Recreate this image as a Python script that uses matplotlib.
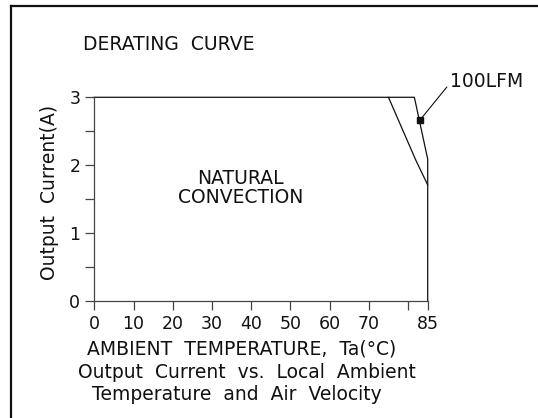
import matplotlib
matplotlib.use("Agg")
import matplotlib.pyplot as plt
from matplotlib.lines import Line2D

# ---- data ----
nat_x = [0, 75, 82, 85, 85]
nat_y = [3, 3, 2.07, 1.71, 0]
lfm_x = [75, 81.6, 85, 85]
lfm_y = [3, 3, 2.09, 1.71]
marker_pt = (83.1, 2.67)
label_pt = (90.6, 3.23)

xticks = [0, 10, 20, 30, 40, 50, 60, 70, 80, 85]
xticklabels = ["0", "10", "20", "30", "40", "50", "60", "70", "", "85"]
yticks = [0, 1, 2, 3]
yticklabels = ["0", "1", "2", "3"]
yminor = [0.5, 1.5, 2.5]

W, H = 538, 418
fs = 13.5
tfs = 12.5
col = "#111111"
plt.rcParams["font.family"] = ["DejaVu Sans"]

fig = plt.figure(figsize=(W / 100, H / 100), dpi=100)
ax = fig.add_axes([94.3 / W, (H - 301) / H, (427.7 - 94.3) / W, (301 - 97.3) / H])
ax.set_xlim(0, 85)
ax.set_ylim(0, 3)

ax.plot(nat_x, nat_y, color=col, lw=0.9, clip_on=False)
ax.plot(lfm_x, lfm_y, color=col, lw=0.9, clip_on=False)
ax.plot([marker_pt[0]], [marker_pt[1]], marker="s", color=col, ms=4.5, clip_on=False)
ax.annotate("100LFM", xy=marker_pt, xytext=label_pt, fontsize=fs, color=col,
            va="center", ha="left", annotation_clip=False,
            arrowprops=dict(arrowstyle="-", lw=0.8, color=col, shrinkA=0, shrinkB=0,
                            relpos=(0, 0.4)))

ax.text(37.2, 1.67, "NATURAL\nCONVECTION", ha="center", va="center",
        fontsize=fs, color=col, linespacing=1.0)

for s in ["top", "right"]:
    ax.spines[s].set_visible(False)
for s in ["left", "bottom"]:
    ax.spines[s].set_linewidth(0.9)
    ax.spines[s].set_color("#444444")

ax.set_xticks(xticks)
ax.set_xticklabels(xticklabels)
ax.set_yticks(yticks)
ax.set_yticklabels(yticklabels)
ax.set_yticks(yminor, minor=True)
ax.tick_params(axis="both", which="both", direction="out", length=6.5, width=0.9,
               color="#444444", labelsize=tfs, labelcolor=col, pad=3.6)

# texts in figure pixel coords
def ftext(x, y, s, **kw):
    fig.text(x / W, 1 - y / H, s, fontsize=fs, color=col, **kw)

ftext(83, 45, "DERATING  CURVE", ha="left", va="center")
ftext(242, 349, "AMBIENT  TEMPERATURE,  Ta(°C)", ha="center", va="center")
ftext(247, 372, "Output  Current  vs.  Local  Ambient", ha="center", va="center")
ftext(237, 395, "Temperature  and  Air  Velocity", ha="center", va="center")
ftext(49.7, 192, "Output  Current(A)", ha="center", va="center", rotation=90)

# frame lines (left and top)
fig.add_artist(Line2D([10.5 / W, 10.5 / W], [0, 1 - 5.5 / H], transform=fig.transFigure,
                      color="#111111", lw=1.6))
fig.add_artist(Line2D([10.5 / W, 1], [1 - 5.5 / H, 1 - 5.5 / H], transform=fig.transFigure,
                      color="#111111", lw=1.6))

fig.savefig("out.png", dpi=100, facecolor="white")
